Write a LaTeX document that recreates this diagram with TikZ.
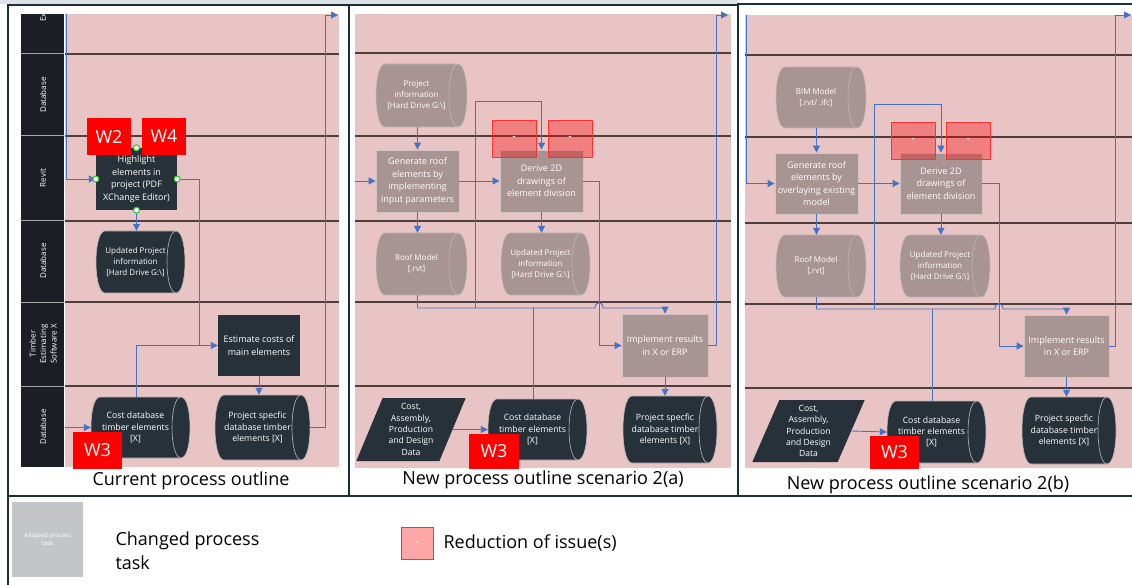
\documentclass[tikz,border=0pt]{standalone}
\usepackage{fontspec}
\setmainfont{Open Sans}
\usetikzlibrary{shapes.geometric,arrows.meta}
\definecolor{pinkbg}{HTML}{E9C4C4}
\definecolor{lanecol}{HTML}{4E3F3F}
\definecolor{darknode}{HTML}{27313A}
\definecolor{labelcol}{HTML}{1B1E24}
\definecolor{adapt}{HTML}{A99494}
\definecolor{adaptline}{HTML}{D2C4C4}
\definecolor{flowblue}{HTML}{4472C4}
\definecolor{framecol}{HTML}{1A2F3A}
\definecolor{wred}{HTML}{FF0000}
\definecolor{rboxline}{HTML}{FF3030}
\definecolor{legendgrey}{HTML}{C3C5C7}
\definecolor{topgrey}{HTML}{DCE3E6}
\definecolor{cylline}{HTML}{B8B8B8}
\definecolor{greendot}{HTML}{22CC22}
% cylinder drawn from numbers, then a named node placed on it and its text
% #1 name, #2 cx, #3 cy, #4 w, #5 h, #6 fill, #7 font, #8 text
\newcommand{\cylnode}[8]{%
  \pgfmathsetmacro\cxa{#2-#4/2}\pgfmathsetmacro\cxb{#2+#4/2}%
  \pgfmathsetmacro\cya{#3-#5/2}\pgfmathsetmacro\cyb{#3+#5/2}%
  \pgfmathsetmacro\pa{\cxa+9}\pgfmathsetmacro\pb{\cxb-9}%
  \pgfmathsetmacro\pc{\cxa-3}\pgfmathsetmacro\pd{\cxb+3}%
  \pgfmathsetmacro\pe{\cxb-21}%
  \pgfmathsetmacro\ptx{#2-5}%
  \path[fill=#6, draw=cylline, line width=0.6pt] (\pa,\cya) -- (\pb,\cya) .. controls (\pd,\cya) and (\pd,\cyb) .. (\pb,\cyb) -- (\pa,\cyb) .. controls (\pc,\cyb) and (\pc,\cya) .. (\pa,\cya) -- cycle;
  \draw[cylline, line width=0.6pt] (\pb,\cya) .. controls (\pe,\cya) and (\pe,\cyb) .. (\pb,\cyb);
  \node[rectangle, inner sep=0pt, minimum width=#4pt, minimum height=#5pt] (#1) at (#2,#3) {};
  \node[cylbox, font=#7] (#1t) at (\ptx,#3) {#8};
}
\begin{document}
\begin{tikzpicture}[x=1pt,y=-1pt,
  sz/.style 2 args={minimum width=#1pt, minimum height=#2pt},
  task/.style={rectangle, fill=darknode, text=white, align=center, inner sep=1pt, font=\fontsize{9}{12.5}\selectfont},
  adapted/.style={rectangle, fill=adapt, draw=adaptline, line width=0.8pt, text=white, align=center, inner sep=1pt, font=\fontsize{9}{12.5}\selectfont},
  cylbox/.style={rectangle, text=white, align=center, inner sep=1pt},
  para/.style={trapezium, trapezium left angle=68, trapezium right angle=112, trapezium stretches=true, fill=darknode, text=white, align=center, inner sep=0pt, font=\fontsize{8.6}{11.3}\selectfont},
  flow/.style={draw=flowblue, line width=0.9pt, -{Triangle[length=7pt,width=7pt]}},
  flowline/.style={draw=flowblue, line width=0.9pt},
  lane/.style={draw=lanecol, line width=1.4pt},
  wbox/.style={rectangle, fill=wred, text=white, font=\fontsize{18}{18}\selectfont, minimum width=44pt, minimum height=37pt, inner sep=0pt},
  rbox/.style={rectangle, fill=red, fill opacity=0.35, text opacity=1, draw=rboxline, line width=0.8pt, text=white, font=\bfseries\fontsize{9}{9}\selectfont, minimum width=44pt, minimum height=37pt, inner sep=0pt},
  lanelabel/.style={rotate=90, text=white, align=center, font=\fontsize{8}{10.5}\selectfont},
  caption/.style={font=\fontsize{18}{20}\selectfont, text=black},
  gdot/.style={draw=greendot, fill=white, line width=1pt}
]
\def\fcyl{\fontsize{8.7}{11.3}\selectfont}
\def\fcyls{\fontsize{8}{11}\selectfont}
\useasboundingbox (0,0) rectangle (1132,585);
\fill[white] (0,0) rectangle (1132,585);
\fill[topgrey] (0,0) rectangle (738,4);

% ================= Panel 1 =================
\fill[pinkbg] (65,14) rectangle (339,467);
\fill[labelcol] (21,14) rectangle (64,467);
\foreach \yy in {54,136,221,302,386}{
  \draw[lane] (65,\yy) -- (339,\yy);
  \draw[gray!70, line width=1pt] (21,\yy) -- (64,\yy);
}
\node[lanelabel, anchor=west] (l0) at (43,25) {Ex};
\node[lanelabel] (l1) at (43,95) {Database};
\node[lanelabel] (l2) at (43,178) {Revit};
\node[lanelabel] (l3) at (43,261) {Database};
\node[lanelabel] (l4) at (43,344) {Timber\\Estimating\\Software X};
\node[lanelabel] (l5) at (43,427) {Database};

\node[task, sz={81}{62}] (hl) at (136.5,179) {Highlight\\elements in\\project (PDF\\XChange Editor)};
\cylnode{upd1}{140.5}{262}{89}{62}{darknode}{\fcyls}{Updated Project\\information\\{[}Hard Drive G:\textbackslash{]}}
\node[task, sz={82}{61}] (est) at (259,345.5) {Estimate costs of\\main elements};
\cylnode{psd1}{262.5}{427.5}{95}{65}{darknode}{\fcyl}{Project specfic\\database timber\\elements {[}X{]}}
\cylnode{cdb1}{140.5}{427.5}{99}{61}{darknode}{\fcyl}{Cost database\\timber elements\\{[}X{]}}

\coordinate (p1top) at (66,14);
\coordinate (p1in) at (65,427.5);
\coordinate (p1exit) at (338,15);
\draw[flow] (p1top) |- (hl.west);
\draw[flow] (hl.south) -- (hl.south |- upd1.north);
\draw[flow] (hl.east) -- ++(22,0) |- (est.west);
\draw[flowline] ([xshift=-4pt]cdb1.north) |- (199,345.5);
\draw[flow] (est.south) -- (est.south |- psd1.north);
\draw[flow] (psd1.east) -- (325,427.5) |- (p1exit);
\draw[flow] (p1in) -- (cdb1.west);

\node[wbox] (w2) at (109,136.5) {W2};
\node[wbox] (w4) at (164,136.5) {W4};
\node[wbox, sz={49}{37}] (w3a) at (97.5,450.5) {W3};
\foreach \a in {west,east,north,south}{\draw[gdot] (hl.\a) circle (3pt);}

% ================= Panel 2 =================
\fill[pinkbg] (355,14) rectangle (731,468);
\foreach \yy in {53,136,221,302,386}{\draw[lane] (355,\yy) -- (731,\yy);}

\cylnode{pi2}{421.5}{95.5}{91}{63}{adapt}{\fcyls}{Project\\information\\{[}Hard Drive G:\textbackslash{]}}
\node[adapted, sz={83}{62}] (gen2) at (417.5,181) {Generate roof\\elements by\\implementing\\input parameters};
\node[adapted, sz={83}{62}] (der2) at (541.5,181) {Derive 2D\\drawings of\\element division};
\cylnode{rm2}{421.5}{264}{91}{62}{adapt}{\fcyls}{Roof Model\\{[}.rvt{]}}
\cylnode{up2}{545.5}{264}{89}{62}{adapt}{\fcyls}{Updated Project\\information\\{[}Hard Drive G:\textbackslash{]}}
\node[adapted, sz={86}{63}] (imp2) at (665,345.5) {Implement results\\in X or ERP};
\cylnode{psd2}{670}{429.5}{94}{67}{darknode}{\fcyl}{Project specfic\\database timber\\elements {[}X{]}}
\cylnode{cdb2}{537.5}{429.5}{99}{61}{darknode}{\fcyl}{Cost database\\timber elements\\{[}X{]}}
\node[para, sz={110}{63}] (par2) at (411,429.5) {Cost,\\Assembly,\\Production\\and Design\\Data};

\coordinate (p2in) at (355,181);
\coordinate (p2exit) at (728,15);
\draw[flow] (p2in) -- (gen2.west);
\draw[flow] (gen2.north |- pi2.south) -- (gen2.north);
\draw[flow] (gen2.east) -- (der2.west);
\draw[flow] (gen2.south) -- (gen2.south |- rm2.north);
\draw[flow] (der2.south) -- (der2.south |- up2.north);
\draw[flow] (rm2.south -| gen2.south) -- (417.5,308) -- (595,308) .. controls (595,301) and (603,301) .. (603,308) -- (665,308) -- (imp2.north);
\draw[flow] (475,308) -- (475,101) -| (der2.north);
\draw[flowline] ([xshift=-4pt]cdb2.north) -- ([xshift=-4pt]cdb2.north |- 0,308);
\draw[flow] (der2.east) -- (599,181) |- (imp2.west);
\draw[flow] (imp2.east) -- (716,345.5) |- (p2exit);
\draw[flow] (imp2.south) -- (imp2.south |- psd2.north);
\draw[flow] (par2.east) -- (cdb2.west);

\node[rbox] (r2a) at (514,138.5) {-};
\node[rbox] (r2b) at (570,138.5) {-};
\node[wbox, sz={50}{35}] (w3b) at (494,451.5) {W3};

% ================= Panel 3 =================
\fill[pinkbg] (745,15) rectangle (1132,468);
\foreach \yy in {55,137,223,304,388}{\draw[lane] (745,\yy) -- (1132,\yy);}

\cylnode{bim3}{821}{97.5}{90}{61}{adapt}{\fcyls}{BIM Model\\{[}.rvt/ .ifc{]}}
\node[adapted, sz={83}{61}] (gen3) at (816.5,183.5) {Generate roof\\elements by\\overlaying existing\\model};
\node[adapted, sz={82}{61}] (der3) at (941,183.5) {Derive 2D\\drawings of\\element division};
\cylnode{rm3}{821}{266}{90}{62}{adapt}{\fcyls}{Roof Model\\{[}.rvt{]}}
\cylnode{up3}{945}{266}{90}{62}{adapt}{\fcyls}{Updated Project\\information\\{[}Hard Drive G:\textbackslash{]}}
\node[adapted, sz={85}{62}] (imp3) at (1066.5,346) {Implement results\\in X or ERP};
\cylnode{psd3}{1069}{430.5}{94}{67}{darknode}{\fcyl}{Project specfic\\database timber\\elements {[}X{]}}
\cylnode{cdb3}{936.5}{432}{99}{62}{darknode}{\fcyl}{Cost database\\timber elements\\{[}X{]}}
\node[para, sz={113}{62}] (par3) at (808.5,431) {Cost,\\Assembly,\\Production\\and Design\\Data};

\coordinate (p3top) at (746,15);
\coordinate (p3exit) at (1131,15);
\draw[flow] (p3top) |- (gen3.west);
\draw[flow] (gen3.north |- bim3.south) -- (gen3.north);
\draw[flow] (gen3.east) -- (der3.west);
\draw[flow] (gen3.south) -- (gen3.south |- rm3.north);
\draw[flow] (der3.south) -- (der3.south |- up3.north);
\draw[flow] (rm3.south -| gen3.south) -- (816.5,309) -- (995,309) .. controls (995,302) and (1003,302) .. (1003,309) -- (1066.5,309) -- (imp3.north);
\draw[flow] (874,309) -- (874,104) -| (der3.north);
\draw[flowline] ([xshift=-4pt]cdb3.north) -- ([xshift=-4pt]cdb3.north |- 0,309);
\draw[flow] (der3.east) -- (999,183.5) |- (imp3.west);
\draw[flow] (imp3.east) -- (1115,346) |- (p3exit);
\draw[flow] (imp3.south) -- (imp3.south |- psd3.north);
\draw[flow] (par3.east) -- (cdb3.west);

\node[rbox] (r3a) at (913,140.5) {-};
\node[rbox] (r3b) at (968.5,140.5) {-};
\node[wbox, sz={49}{33}] (w3c) at (894.5,452.5) {W3};

% ================= Frames & captions =================
\draw[framecol, line width=1.3pt] (8,5) rectangle (349,496);
\draw[framecol, line width=1.3pt] (349,5) rectangle (738,496);
\draw[framecol, line width=2.2pt] (738,4) rectangle (1137,496);
\draw[framecol, line width=1.3pt] (8,496) -- (8,590);

\node[caption] (c1) at (191,481) {Current process outline};
\node[caption] (c2) at (543,480) {New process outline scenario 2(a)};
\node[caption] (c3) at (928,485) {New process outline scenario 2(b)};

% ================= Legend =================
\node[rectangle, fill=legendgrey, sz={71}{75}, text=white, align=center, inner sep=0pt, font=\fontsize{6}{8}\selectfont] (lg1) at (47.5,539.5) {Adapted process\\task};
\node[anchor=west, align=left, font=\fontsize{18}{24}\selectfont] (lg1t) at (112,551) {Changed process\\task};
\node[rbox, sz={32}{32}] (lg2) at (417,543) {-};
\node[anchor=west, font=\fontsize{18}{20}\selectfont] (lg2t) at (440,543) {Reduction of issue(s)};
\end{tikzpicture}
\end{document}
